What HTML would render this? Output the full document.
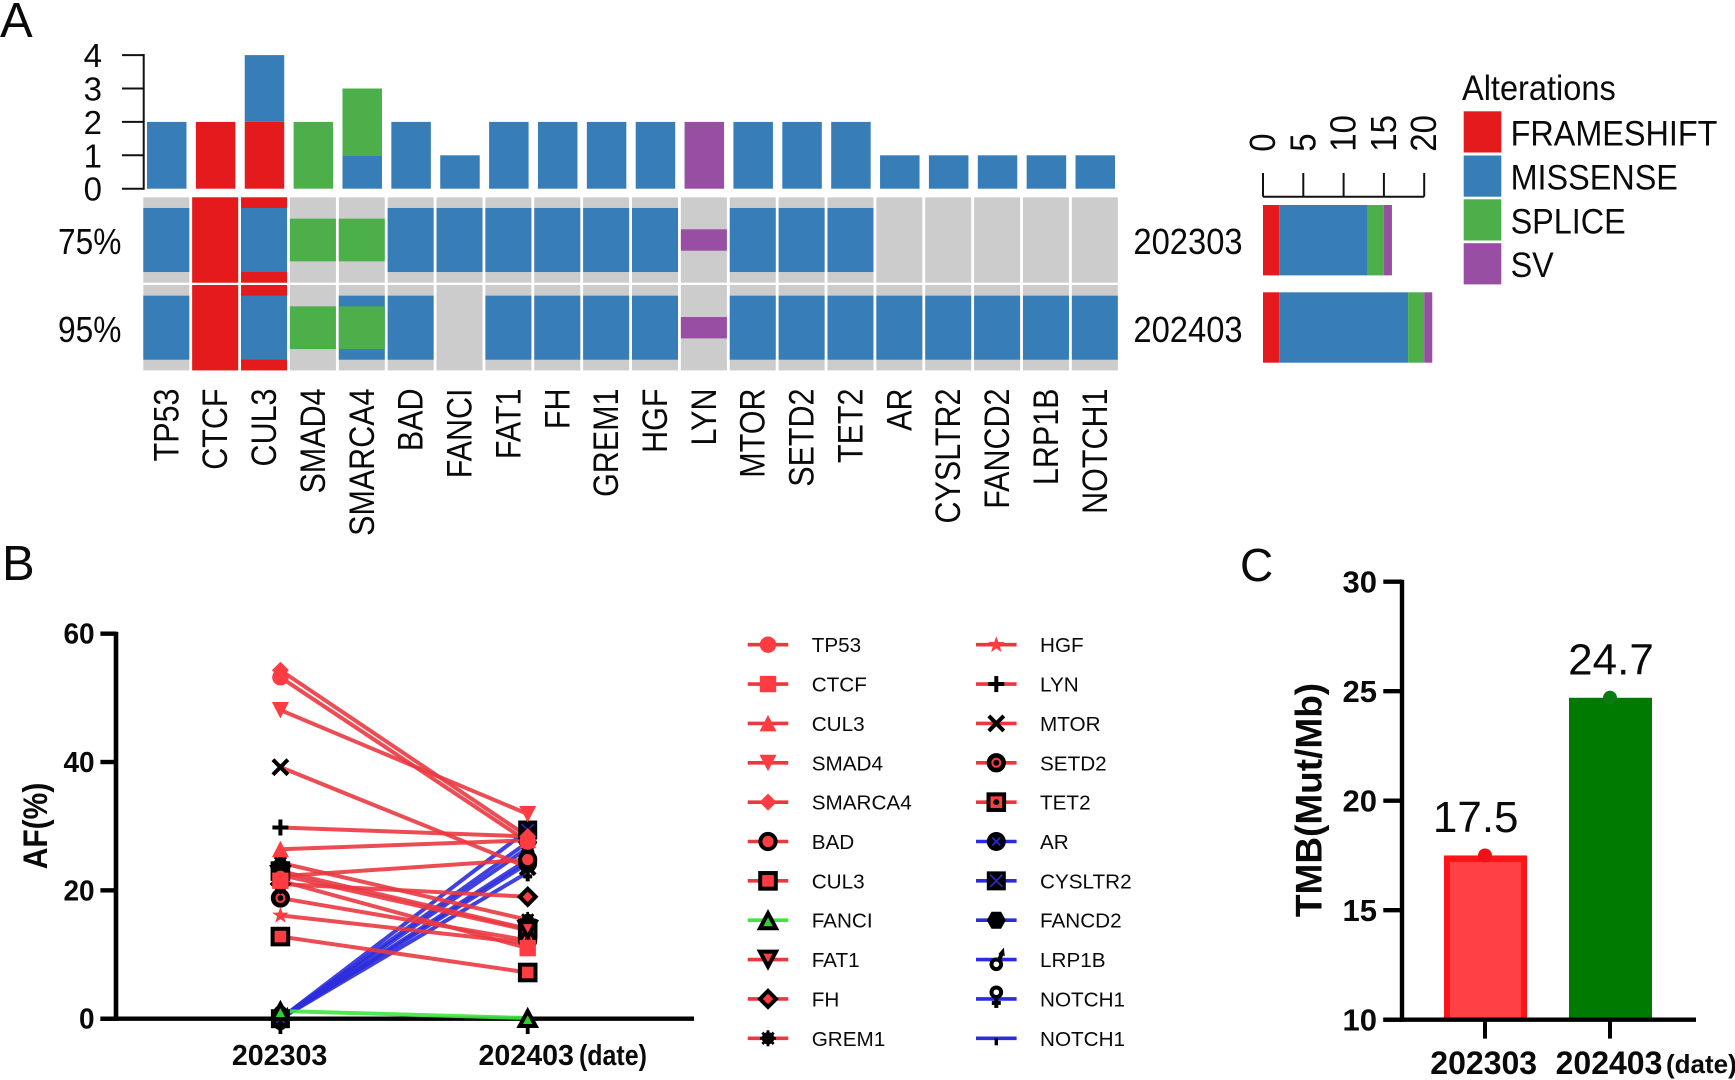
<!DOCTYPE html>
<html lang="en">
<head>
<meta charset="utf-8">
<title>Mutation landscape, allele frequency and TMB</title>
<style>
  html,body{margin:0;padding:0;background:#fff;}
  svg{display:block;font-family:"Liberation Sans",Arial,sans-serif;}
  text{fill:#0a0a0a;}
  .b{font-weight:700;}
</style>
</head>
<body>
<svg id="fig" xmlns="http://www.w3.org/2000/svg" width="1735" height="1080" viewBox="0 0 1735 1080">
  <rect x="0" y="0" width="1735" height="1080" fill="#fff"/>
  <text x="0" y="37" font-size="49">A</text>
  <text x="2" y="580" font-size="49">B</text>
  <text x="1240" y="581" font-size="46">C</text>
  <text transform="translate(1462,100) scale(.93,1)" font-size="35">Alterations</text>
  <text class="b" transform="translate(47,826) rotate(-90) scale(1,1.15)" text-anchor="middle" font-size="30">AF(%)</text>
  <text class="b" transform="translate(1321.7,800) rotate(-90)" text-anchor="middle" font-size="37">TMB(Mut/Mb)</text>
  <text class="b" transform="translate(579,1065) scale(.96,1.12)" font-size="26">(date)</text>
  <text class="b" x="1666" y="1073" font-size="26">(date)</text>
</svg>
<script>
/* ---------- Panel A data ---------- */
const genes = ['TP53','CTCF','CUL3','SMAD4','SMARCA4','BAD','FANCI','FAT1','FH','GREM1','HGF','LYN','MTOR','SETD2','TET2','AR','CYSLTR2','FANCD2','LRP1B','NOTCH1'];
const samples = ['202303','202403'];
const samplePercents = ['75%','95%'];
/* F frameshift, M missense, S splice, V structural variant */
const alterations202303 = ['M','F','FM','S','S','M','M','M','M','M','M','V','M','M','M','','','','',''];
const alterations202403 = ['M','F','FM','S','MS','M','','M','M','M','M','V','M','M','M','M','M','M','M','M'];
const topFrameshift = [0,2,2,0,0,0,0,0,0,0,0,0,0,0,0,0,0,0,0,0];
const topMissense   = [2,0,2,0,1,2,1,2,2,2,2,0,2,2,2,1,1,1,1,1];
const topSplice     = [0,0,0,2,2,0,0,0,0,0,0,0,0,0,0,0,0,0,0,0];
const topSV         = [0,0,0,0,0,0,0,0,0,0,0,2,0,0,0,0,0,0,0,0];
const topTicks = [0,1,2,3,4];
const sideFrameshift = [2,2];
const sideMissense   = [11,16];
const sideSplice     = [2,2];
const sideSV         = [1,1];
const sideTicks = [0,5,10,15,20];
const legendTypes = ['FRAMESHIFT','MISSENSE','SPLICE','SV'];

/* ---------- Panel B data ---------- */
const afSeries = ['TP53','CTCF','CUL3','SMAD4','SMARCA4','BAD','CUL3','FANCI','FAT1','FH','GREM1','HGF','LYN','MTOR','SETD2','TET2','AR','CYSLTR2','FANCD2','LRP1B','NOTCH1','NOTCH1'];
const af202303 = [53.2,21.5,26.4,48.1,54.3,22.2,12.8,1.2,22.4,21.0,24.3,16.1,29.8,39.2,18.8,23.0,0,0,0,0,0,0];
const af202403 = [27.6,11.0,27.8,31.9,28.4,24.8,7.2,0.1,13.8,19.0,15.4,11.8,28.4,23.6,12.2,14.0,24.2,29.4,27.5,26.6,22.8,24.8];
const afTicks = [0,20,40,60];
const afCategories = ['202303','202403'];

/* ---------- Panel C data ---------- */
const tmbCategories = ['202303','202403'];
const tmbValues = [17.5,24.7];
const tmbLabels = ['17.5','24.7'];
const tmbTicks = [10,15,20,25,30];

/* ---------- Style tables ---------- */
const RED='#e41a1c', BLUE='#377eb8', GREEN='#4daf4a', PURPLE='#984ea3', GRAY='#cccccc';
const typeColors=[RED,BLUE,GREEN,PURPLE];
const markerFill='#ff3c42';
const seriesShapes=['circle','square','triUp','triDown','diamond','oCircle','oSquare','oTriUpGreen','oTriDown','oDiamond','burst','star','plus','cross','ring','sqDot','circleX','squareX','hex','male','female','tick'];
const seriesColor=i=> i===7?'#40e640':(i>=16?'#2c2cdc':'#ea3840');

const svg=document.getElementById('fig');
const NS='http://www.w3.org/2000/svg';
function mk(tag,attrs,name,parent){
  const el=document.createElementNS(NS,tag);
  for(const k in attrs) el.setAttribute(k,attrs[k]);
  
  
  (parent||svg).appendChild(el);
  return el;
}
function txt(str,attrs,name,parent){
  const el=mk('text',attrs,name,parent);
  el.textContent=str;
  return el;
}
function rect(x,y,w,h,fill,name,parent){
  return mk('rect',{x:x,y:y,width:w,height:h,fill:fill},name,parent);
}
function line(x1,y1,x2,y2,w,col,name,parent){
  return mk('line',{x1:x1,y1:y1,x2:x2,y2:y2,stroke:col,'stroke-width':w},name,parent);
}

/* ---------- Panel A ---------- */
const topY=v=>188.7-33.4*v;
const barX=i=>147+48.87*i;
const cellX=i=>143.3+48.87*i;
const slug=s=>s.toLowerCase();

line(143.7,54,143.7,189.7,2,'#111','oncoplot-top-axis');
topTicks.forEach(v=>{
  line(122,topY(v),143.7,topY(v),2,'#111','oncoplot-top-tick');
  txt(String(v),{x:102,y:topY(v)+12,'text-anchor':'end','font-size':33},'oncoplot-top-tick-label');
});
[topFrameshift,topMissense,topSplice,topSV].forEach((arr,t)=>{
  arr.forEach((v,i)=>{
    if(!v) return;
    let below=0;
    [topFrameshift,topMissense,topSplice,topSV].slice(0,t).forEach(a=>below+=a[i]);
    rect(barX(i),topY(below+v),39.5,topY(below)-topY(below+v),typeColors[t],'top-bar-'+slug(genes[i])+'-'+slug(legendTypes[t]));
  });
});
const rowTop=[197.3,285], rowH=85.4, cellW=46;
const bandDefs={F:[0,1,RED],M:[.125,.875,BLUE],S:[.25,.75,GREEN],V:[.375,.625,PURPLE]};
[alterations202303,alterations202403].forEach((row,r)=>{
  row.forEach((code,i)=>{
    rect(cellX(i),rowTop[r],cellW,rowH,GRAY,'oncoplot-cell-'+slug(genes[i])+'-'+samples[r]);
    code.split('').forEach(c=>{
      const d=bandDefs[c];
      rect(cellX(i),rowTop[r]+d[0]*rowH,cellW,(d[1]-d[0])*rowH,d[2],'oncoplot-alteration-'+slug(genes[i])+'-'+samples[r]);
    });
  });
  txt(samplePercents[r],{transform:'translate(89.7,'+(rowTop[r]+56.8)+') scale(.88,1)','text-anchor':'middle','font-size':36},'sample-percent-label');
  txt(samples[r],{transform:'translate(1188,'+(rowTop[r]+56.8)+') scale(.91,1)','text-anchor':'middle','font-size':36},'sample-label');
});
genes.forEach((g,i)=>{
  const cx=cellX(i)+23;
  txt(g,{transform:'translate('+(cx+12)+',388.5) rotate(-90) scale(1,1.14)','text-anchor':'end','font-size':30.5},'gene-label');
});
const sideX=v=>1263+8.06*v;
line(sideX(0),196.7,sideX(20),196.7,2,'#111','side-bar-axis');
sideTicks.forEach(v=>{
  line(sideX(v),173,sideX(v),196.7,2,'#111','side-bar-tick');
  txt(String(v),{transform:'translate('+(sideX(v)+12)+',151.7) rotate(-90) scale(1,1.1)','font-size':33},'side-bar-tick-label');
});
const sideRowY=[205,292.3];
[0,1].forEach(r=>{
  let acc=0;
  [sideFrameshift,sideMissense,sideSplice,sideSV].forEach((arr,t)=>{
    rect(sideX(acc),sideRowY[r],sideX(acc+arr[r])-sideX(acc),70.4,typeColors[t],'side-bar-'+samples[r]+'-'+slug(legendTypes[t]));
    acc+=arr[r];
  });
});
const legendY=[111.3,155.5,199.3,243.2];
legendTypes.forEach((n,i)=>{
  rect(1463.7,legendY[i],37.6,41.2,typeColors[i],'legend-swatch-'+slug(n));
  txt(n,{transform:'translate(1510.6,'+(legendY[i]+34)+') scale(.925,1)','font-size':35},'legend-label-'+slug(n));
});

/* ---------- Panel B ---------- */
const afY=v=>1018.7-6.417*v;
const afX=i=>280.4+247.3*i;

function marker(shape,x,y,parent){
  const g=mk('g',{transform:'translate('+x+','+y+')'},'marker-'+shape,parent);
  const K='#000',F=markerFill,SW=4;
  const poly=(pts,fill,sw)=>mk('polygon',{points:pts,fill:fill,stroke:sw?K:'none','stroke-width':sw||0,'stroke-linejoin':'miter'},'marker-shape',g);
  const circ=(cx,cy,r,fill,sw)=>mk('circle',{cx:cx,cy:cy,r:r,fill:fill,stroke:sw?K:'none','stroke-width':sw||0},'marker-shape',g);
  const sq=(s,fill,sw)=>mk('rect',{x:-s/2,y:-s/2,width:s,height:s,fill:fill,stroke:sw?K:'none','stroke-width':sw||0},'marker-shape',g);
  const seg=(a,b,c,d,col,w)=>line(a,b,c,d,w||4,col||K,'marker-stroke',g);
  switch(shape){
    case 'circle': circ(0,0,8.2,F); break;
    case 'square': sq(16.4,F); break;
    case 'triUp': poly('0,-8.5 8.5,8 -8.5,8',F); break;
    case 'triDown': poly('0,8.5 8.5,-8 -8.5,-8',F); break;
    case 'diamond': poly('0,-8.5 8.5,0 0,8.5 -8.5,0',F); break;
    case 'oCircle': circ(0,0,7.6,F,SW); break;
    case 'oSquare': sq(15.6,F,SW); break;
    case 'oTriUpGreen': poly('0,-7 8,8 -8,8','#30d030',SW); break;
    case 'oTriDown': poly('0,7 8,-8 -8,-8',F,SW); break;
    case 'oDiamond': poly('0,-8 8,0 0,8 -8,0',F,SW); break;
    case 'burst':
      circ(0,0,6.2,K);
      for(let a=0;a<4;a++){const c=Math.cos(a*Math.PI/4)*8,s=Math.sin(a*Math.PI/4)*8;seg(-c,-s,c,s,K,2.8);}
      break;
    case 'star': poly('0,-8.5 2.1,-2.7 8.2,-2.7 3.3,1 5.2,7.4 0,3.7 -5.2,7.4 -3.3,1 -8.2,-2.7 -2.1,-2.7',F); break;
    case 'plus': seg(-8,0,8,0); seg(0,-8,0,8); break;
    case 'cross': seg(-7.5,-7.5,7.5,7.5); seg(-7.5,7.5,7.5,-7.5); break;
    case 'ring': circ(0,0,7.6,'#000',SW); circ(0,0,5,F); circ(0,0,3,K); break;
    case 'sqDot': sq(15.6,F,SW); circ(0,0,3,K); break;
    case 'circleX': circ(0,0,9.5,K); seg(-4,-4,4,4,'#2a2ad0',1.6); seg(-4,4,4,-4,'#2a2ad0',1.6); break;
    case 'squareX': sq(19,K); seg(-6,-6,6,6,'#2a2ad0',1.6); seg(-6,6,6,-6,'#2a2ad0',1.6); break;
    case 'hex': poly('-9.5,0 -4.8,-8.5 4.8,-8.5 9.5,0 4.8,8.5 -4.8,8.5',K); break;
    case 'male':
      circ(0,4.7,4.8,'#fff',SW); seg(2.5,1,6,-7); poly('7.5,-12 8.5,-3.5 2,-5.5',K); break;
    case 'female':
      circ(0,-6.7,4.8,'#fff',SW); seg(0,-2,0,9); seg(-4.5,4,4.5,4); break;
    case 'tick': seg(0,0,0,7,K,3.4); break;
  }
  return g;
}

/* axes */
line(116,631.7,116,1020.7,4.6,'#000','af-y-axis');
line(100.4,1018.7,694,1018.7,4.4,'#000','af-x-axis');
afTicks.forEach(v=>{
  line(100.4,afY(v),116,afY(v),4.4,'#000','af-y-tick');
  txt(String(v),{class:'b',transform:'translate(94.6,'+(afY(v)+10)+') scale(1,1.04)','text-anchor':'end','font-size':28},'af-y-tick-label');
});
afCategories.forEach((c,i)=>{
  line(afX(i),1018.7,afX(i),1034,3.8,'#000','af-x-tick');
  txt(c,{class:'b',x:afX(i)-(i?1.5:.8),y:1065,'text-anchor':'middle','font-size':28.6},'af-x-tick-label');
});

/* lines: blue beneath, then green, then red */
const lineOrder=[16,17,18,19,20,21,7,0,4,3,13,12,2,5,10,15,8,1,9,14,11,6];
lineOrder.forEach(i=>{
  mk('line',{x1:afX(0),y1:afY(af202303[i]),x2:afX(1),y2:afY(af202403[i]),stroke:seriesColor(i),'stroke-width':4,'stroke-opacity':.9},'af-line-'+slug(afSeries[i]));
});
/* markers: reversed so plain red sit on top */
for(let i=afSeries.length-1;i>=0;i--){
  [af202303[i],af202403[i]].forEach((v,c)=>marker(seriesShapes[i],afX(c),afY(v)));
}

/* legend */
const legRowY=i=>644.7+39.36*i;
afSeries.forEach((n,i)=>{
  const col=i<11?0:1, row=i<11?i:i-11;
  const cx=col?996.3:768, y=legRowY(row);
  const g=mk('g',{},'af-legend-entry-'+slug(n));
  line(cx-20.3,y,cx+20.3,y,3.6,seriesColor(i),'af-legend-line',g);
  marker(seriesShapes[i],cx,y,g);
  txt(n,{x:col?1040:811.7,y:y+7.5,'font-size':20.7,fill:'#1a1a1a'},'af-legend-label',g);
});

/* ---------- Panel C ---------- */
const tmbY=v=>1019.7-21.9*(v-10);
const tmbBarX=[1444,1569], tmbTickX=[1485,1610], tmbLabelX=[1475.7,1611], tmbW=83;
const tmbStroke=['#ff1418','#007a00'], tmbFill=['#ff4044','#007a00'], tmbDot=['#f01018','#0b7a10'];
tmbValues.forEach((v,i)=>{
  rect(tmbBarX[i],tmbY(v),tmbW,tmbY(10)-tmbY(v),tmbStroke[i],'tmb-bar-border-'+tmbCategories[i]);
  rect(tmbBarX[i]+6,tmbY(v)+6.5,tmbW-12,tmbY(10)-tmbY(v)-6.5,tmbFill[i],'tmb-bar-'+tmbCategories[i]);
  mk('circle',{cx:tmbTickX[i],cy:tmbY(v),r:7,fill:tmbDot[i]},'tmb-point-'+tmbCategories[i]);
  txt(tmbLabels[i],{x:tmbLabelX[i],y:tmbY(v)-23.5,'text-anchor':'middle','font-size':44},'tmb-value-label');
  line(tmbTickX[i],1019.7,tmbTickX[i],1038.6,4,'#000','tmb-x-tick');
  txt(tmbCategories[i],{class:'b',x:i?1609:1483.7,y:1074,'text-anchor':'middle','font-size':32},'tmb-x-tick-label');
});
line(1402,579.7,1402,1021.7,4.4,'#000','tmb-y-axis');
line(1383.3,1019.7,1696,1019.7,4.4,'#000','tmb-x-axis');
tmbTicks.forEach(v=>{
  line(1383.3,tmbY(v),1402,tmbY(v),4.4,'#000','tmb-y-tick');
  txt(String(v),{class:'b',x:1377,y:tmbY(v)+11,'text-anchor':'end','font-size':31},'tmb-y-tick-label');
});
</script>
</body>
</html>
